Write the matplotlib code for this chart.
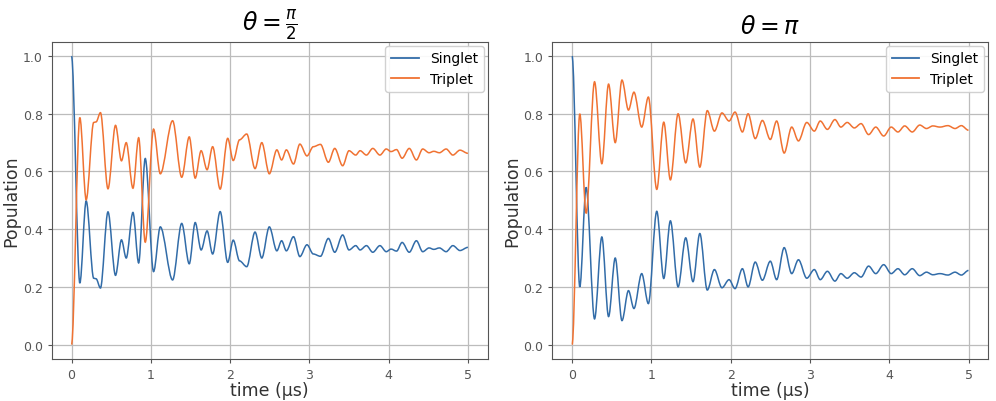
import numpy as np
import matplotlib
matplotlib.use('Agg')
import matplotlib.pyplot as plt
from matplotlib.path import Path
from matplotlib.patches import PathPatch
from matplotlib.lines import Line2D

# theta = pi/2 : turning points (time in us)
time_a = [0, 0.105, 0.185, 0.28, 0.31, 0.365, 0.46, 0.555, 0.63, 0.69, 0.775, 0.847, 0.93,
          1.035, 1.12, 1.275, 1.39, 1.485, 1.56, 1.635, 1.71, 1.78, 1.875, 1.97, 2.04, 2.12,
          2.21, 2.315, 2.40, 2.495, 2.59, 2.65, 2.71, 2.80, 2.88, 2.97, 3.05, 3.14, 3.24, 3.32,
          3.42, 3.50, 3.585, 3.64, 3.72, 3.80, 3.89, 3.97, 4.03, 4.10, 4.17, 4.26, 4.35, 4.43,
          4.51, 4.57, 4.64, 4.725, 4.81, 4.90, 5.0]
singlet_a = [1.0, 0.213, 0.498, 0.23, 0.228, 0.196, 0.46, 0.24, 0.363, 0.30, 0.458, 0.283, 0.645,
             0.253, 0.408, 0.224, 0.42, 0.28, 0.423, 0.328, 0.394, 0.314, 0.461, 0.285, 0.362, 0.29,
             0.27, 0.39, 0.30, 0.408, 0.325, 0.36, 0.325, 0.374, 0.305, 0.346, 0.314, 0.306, 0.368, 0.32,
             0.38, 0.328, 0.343, 0.328, 0.343, 0.32, 0.343, 0.322, 0.331, 0.324, 0.354, 0.32, 0.36, 0.322,
             0.335, 0.33, 0.335, 0.322, 0.343, 0.326, 0.337]
triplet_a = [0.0, 0.787, 0.502, 0.77, 0.772, 0.804, 0.54, 0.76, 0.637, 0.70, 0.542, 0.717, 0.355,
             0.747, 0.592, 0.776, 0.58, 0.72, 0.577, 0.672, 0.606, 0.686, 0.539, 0.715, 0.638, 0.71,
             0.73, 0.61, 0.70, 0.592, 0.675, 0.64, 0.675, 0.626, 0.695, 0.654, 0.686, 0.694, 0.632, 0.68,
             0.62, 0.672, 0.657, 0.672, 0.657, 0.68, 0.657, 0.678, 0.669, 0.676, 0.646, 0.68, 0.64, 0.678,
             0.665, 0.67, 0.665, 0.678, 0.657, 0.674, 0.663]

# theta = pi
time_b = [0, 0.097, 0.177, 0.283, 0.375, 0.46, 0.544, 0.629, 0.711, 0.78, 0.878, 0.962, 1.068,
          1.156, 1.24, 1.337, 1.433, 1.525, 1.611, 1.705, 1.795, 1.89, 1.98, 2.055, 2.148, 2.22,
          2.31, 2.40, 2.50, 2.58, 2.675, 2.77, 2.855, 2.96, 3.055, 3.13, 3.22, 3.315, 3.39, 3.47,
          3.56, 3.645, 3.74, 3.83, 3.93, 4.025, 4.11, 4.195, 4.29, 4.385, 4.47, 4.55, 4.64, 4.74,
          4.83, 4.91, 5.0]
singlet_b = [1.0, 0.20, 0.545, 0.089, 0.373, 0.097, 0.30, 0.083, 0.187, 0.125, 0.246, 0.142, 0.462,
             0.229, 0.429, 0.20, 0.37, 0.218, 0.385, 0.189, 0.26, 0.197, 0.225, 0.194, 0.263, 0.20,
             0.286, 0.223, 0.289, 0.225, 0.336, 0.246, 0.294, 0.23, 0.26, 0.225, 0.254, 0.22, 0.246, 0.23,
             0.249, 0.234, 0.272, 0.246, 0.277, 0.246, 0.263, 0.242, 0.263, 0.239, 0.251, 0.242, 0.246,
             0.241, 0.251, 0.241, 0.257]
triplet_b = [0.0, 0.80, 0.455, 0.911, 0.627, 0.903, 0.70, 0.917, 0.813, 0.875, 0.754, 0.858, 0.538,
             0.771, 0.571, 0.80, 0.63, 0.782, 0.615, 0.811, 0.74, 0.803, 0.775, 0.806, 0.737, 0.80,
             0.714, 0.777, 0.711, 0.775, 0.664, 0.754, 0.706, 0.77, 0.74, 0.775, 0.746, 0.78, 0.754, 0.77,
             0.751, 0.766, 0.728, 0.754, 0.723, 0.754, 0.737, 0.758, 0.737, 0.761, 0.749, 0.758, 0.754,
             0.759, 0.749, 0.759, 0.743]

titles = [r'$\theta = \frac{\pi}{2}$', r'$\theta = \pi$']
x_ticks = [0, 1, 2, 3, 4, 5]
y_ticks = [0.0, 0.2, 0.4, 0.6, 0.8, 1.0]

blue = '#326ca8'
orange = '#f07232'


def wave_path(t, y):
    # bezier segments between turning points, flat at each turning point
    verts = [(t[0], y[0])]
    codes = [Path.MOVETO]
    for i in range(1, len(t)):
        dt = t[i] - t[i - 1]
        verts += [(t[i - 1] + dt / 3, y[i - 1]), (t[i] - dt / 3, y[i]), (t[i], y[i])]
        codes += [Path.CURVE4] * 3
    return Path(verts, codes)


def draw_panel(ax, t, s, tr, title):
    ax.add_patch(PathPatch(wave_path(t, s), fill=False, edgecolor=blue, lw=1.1))
    ax.add_patch(PathPatch(wave_path(t, tr), fill=False, edgecolor=orange, lw=1.1))
    ax.set_xlim(-0.25, 5.25)
    ax.set_ylim(-0.05, 1.05)
    ax.set_xticks(x_ticks)
    ax.set_yticks(y_ticks)
    ax.set_yticklabels(['%.1f' % v for v in y_ticks])
    ax.grid(True, color='#bcbcbc', lw=0.9)
    ax.set_axisbelow(True)
    for sp in ax.spines.values():
        sp.set_color('#555555')
    ax.tick_params(labelsize=9, colors='#555555', labelcolor='#555555', length=3)
    ax.set_xlabel('time (μs)', fontsize=12.5, color='#333333', labelpad=0)
    ax.set_ylabel('Population', fontsize=12.5, color='#333333', labelpad=1.5)
    ax.set_title(title, fontsize=17, pad=6)
    handles = [Line2D([], [], color=blue, lw=1.3), Line2D([], [], color=orange, lw=1.3)]
    ax.legend(handles, ['Singlet', 'Triplet'], loc='upper right', fontsize=10,
              borderaxespad=0.3, framealpha=0.9)


fig = plt.figure(figsize=(9.96, 4.02), dpi=100)
ax1 = fig.add_axes([0.0519, 0.1045, 0.4378, 0.7893])
ax2 = fig.add_axes([0.5545, 0.1045, 0.4378, 0.7893])
draw_panel(ax1, time_a, singlet_a, triplet_a, titles[0])
draw_panel(ax2, time_b, singlet_b, triplet_b, titles[1])
fig.savefig('out.png', dpi=100)
